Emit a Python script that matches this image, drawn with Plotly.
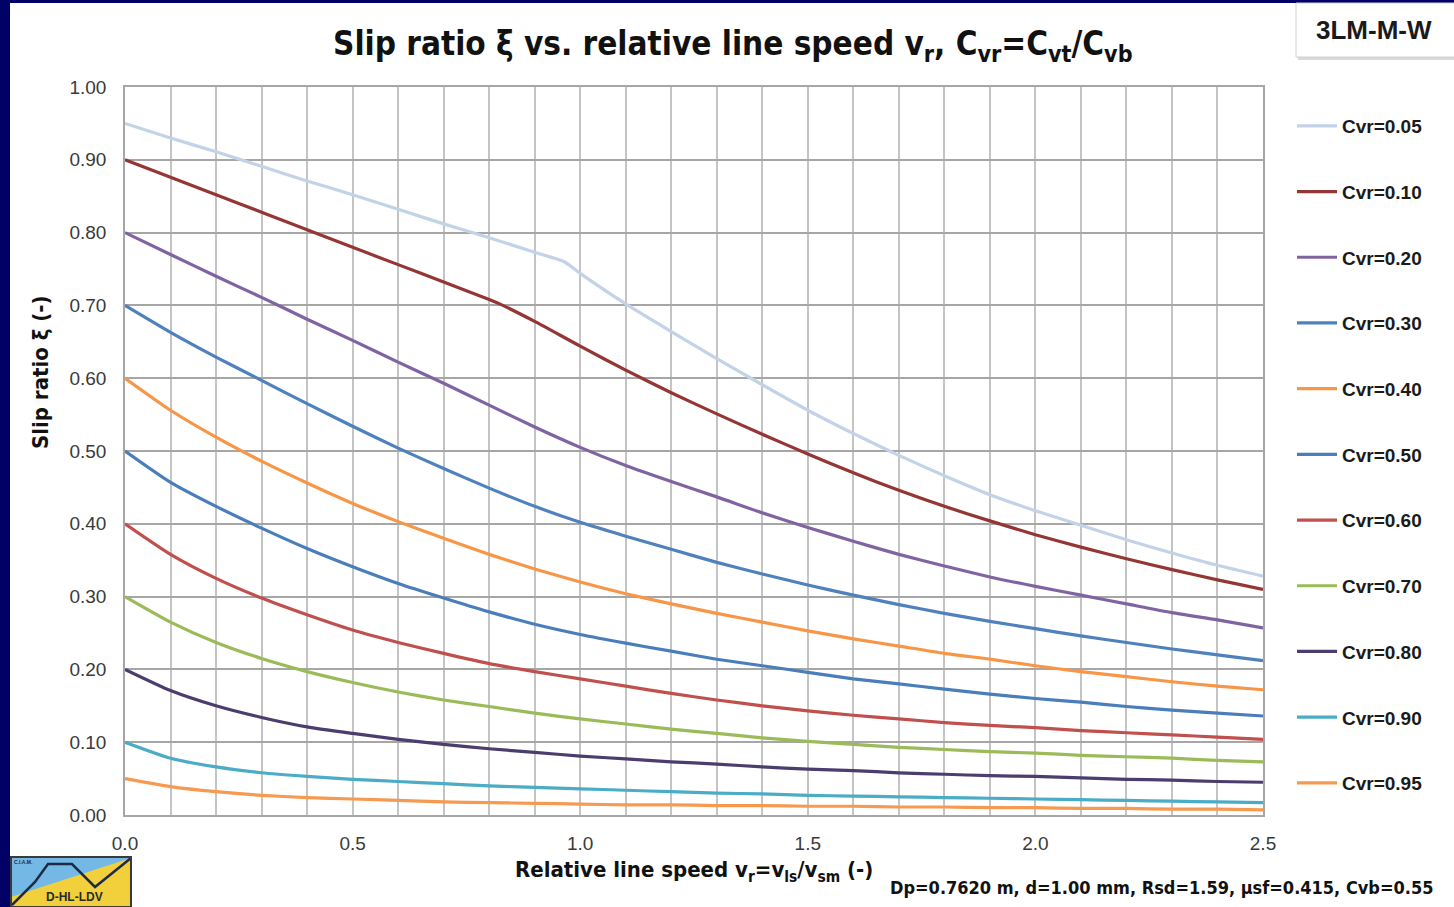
import plotly.graph_objects as go

# ---------------- data ----------------
x_grid = [0.0, 0.1, 0.2, 0.3, 0.4, 0.5, 0.6, 0.7, 0.8, 0.9, 1.0, 1.1, 1.2,
          1.3, 1.4, 1.5, 1.6, 1.7, 1.8, 1.9, 2.0, 2.1, 2.2, 2.3, 2.4, 2.5]

x_cvr005 = [0.0, 0.1, 0.2, 0.3, 0.4, 0.5, 0.6, 0.7, 0.8, 0.9, 0.965, 1.0, 1.1,
            1.2, 1.3, 1.4, 1.5, 1.6, 1.7, 1.8, 1.9, 2.0, 2.1, 2.2, 2.3, 2.4, 2.5]
y_cvr005 = [0.950, 0.930, 0.911, 0.891, 0.871, 0.852, 0.832, 0.812, 0.793, 0.773,
            0.760, 0.744, 0.702, 0.664, 0.627, 0.591, 0.556, 0.524, 0.494, 0.466,
            0.440, 0.418, 0.398, 0.378, 0.360, 0.343, 0.328]

x_cvr010 = [0.0, 0.1, 0.2, 0.3, 0.4, 0.5, 0.6, 0.7, 0.8, 0.83, 0.9, 1.0, 1.1,
            1.2, 1.3, 1.4, 1.5, 1.6, 1.7, 1.8, 1.9, 2.0, 2.1, 2.2, 2.3, 2.4, 2.5]
y_cvr010 = [0.900, 0.876, 0.852, 0.828, 0.804, 0.780, 0.756, 0.732, 0.708, 0.700,
            0.678, 0.644, 0.611, 0.580, 0.551, 0.523, 0.496, 0.470, 0.446, 0.424,
            0.404, 0.385, 0.368, 0.352, 0.337, 0.323, 0.310]

y_cvr020 = [0.800, 0.770, 0.740, 0.711, 0.681, 0.652, 0.622, 0.593, 0.563, 0.533,
            0.505, 0.480, 0.458, 0.437, 0.415, 0.395, 0.376, 0.358, 0.342, 0.327,
            0.314, 0.302, 0.290, 0.278, 0.268, 0.257]
y_cvr030 = [0.700, 0.663, 0.629, 0.597, 0.565, 0.534, 0.504, 0.476, 0.449, 0.424,
            0.402, 0.383, 0.365, 0.347, 0.331, 0.316, 0.302, 0.289, 0.277, 0.266,
            0.256, 0.246, 0.237, 0.228, 0.220, 0.212]
y_cvr040 = [0.600, 0.556, 0.519, 0.486, 0.456, 0.428, 0.403, 0.380, 0.358, 0.338,
            0.320, 0.304, 0.290, 0.277, 0.265, 0.253, 0.242, 0.232, 0.222, 0.214,
            0.205, 0.197, 0.190, 0.183, 0.177, 0.172]
y_cvr050 = [0.500, 0.457, 0.424, 0.394, 0.366, 0.341, 0.318, 0.298, 0.279, 0.262,
            0.248, 0.236, 0.225, 0.214, 0.205, 0.196, 0.187, 0.180, 0.173, 0.166,
            0.160, 0.155, 0.149, 0.144, 0.140, 0.136]
y_cvr060 = [0.400, 0.358, 0.325, 0.298, 0.275, 0.254, 0.237, 0.222, 0.208, 0.197,
            0.187, 0.177, 0.167, 0.158, 0.150, 0.143, 0.137, 0.132, 0.127, 0.123,
            0.120, 0.116, 0.113, 0.110, 0.107, 0.104]
y_cvr070 = [0.300, 0.265, 0.237, 0.215, 0.197, 0.182, 0.169, 0.158, 0.149, 0.140,
            0.132, 0.125, 0.118, 0.112, 0.106, 0.101, 0.097, 0.093, 0.090, 0.087,
            0.085, 0.082, 0.080, 0.078, 0.075, 0.073]
y_cvr080 = [0.200, 0.171, 0.150, 0.134, 0.121, 0.112, 0.104, 0.097, 0.091, 0.086,
            0.081, 0.077, 0.073, 0.070, 0.066, 0.063, 0.061, 0.058, 0.056, 0.054,
            0.053, 0.051, 0.049, 0.048, 0.046, 0.045]
y_cvr090 = [0.100, 0.078, 0.066, 0.058, 0.053, 0.049, 0.046, 0.043, 0.040, 0.038,
            0.036, 0.034, 0.032, 0.030, 0.029, 0.027, 0.026, 0.025, 0.024, 0.023,
            0.022, 0.021, 0.020, 0.019, 0.018, 0.017]
y_cvr095 = [0.050, 0.039, 0.032, 0.027, 0.024, 0.022, 0.020, 0.018, 0.017, 0.016,
            0.015, 0.014, 0.014, 0.013, 0.013, 0.012, 0.012, 0.011, 0.011, 0.010,
            0.010, 0.009, 0.009, 0.008, 0.008, 0.007]

series_names = ["Cvr=0.05", "Cvr=0.10", "Cvr=0.20", "Cvr=0.30", "Cvr=0.40", "Cvr=0.50",
                "Cvr=0.60", "Cvr=0.70", "Cvr=0.80", "Cvr=0.90", "Cvr=0.95"]
series_x = [x_cvr005, x_cvr010] + [x_grid] * 9
series_y = [y_cvr005, y_cvr010, y_cvr020, y_cvr030, y_cvr040, y_cvr050,
            y_cvr060, y_cvr070, y_cvr080, y_cvr090, y_cvr095]
series_colors = ["#C3D3E7", "#943634", "#8064A2", "#4F81BD", "#F79646", "#4A7EBB",
                 "#C0504D", "#9BBB59", "#4B3D6E", "#4BACC6", "#F59A50"]

y_ticks = [0.0, 0.1, 0.2, 0.3, 0.4, 0.5, 0.6, 0.7, 0.8, 0.9, 1.0]
x_ticks = [0.0, 0.5, 1.0, 1.5, 2.0, 2.5]

# ---------------- figure ----------------
W, H = 1454, 907
L, R, T, B = 125, 1263, 87, 815

def px(X):
    return (X - L) / (R - L)

def py(Y):
    return (B - Y) / (B - T)

NARROW = "Liberation Sans Narrow, Arial Narrow, DejaVu Sans Condensed, Liberation Sans, Arial, sans-serif"
SANS = "Liberation Sans, Arial, Helvetica, sans-serif"

fig = go.Figure()
for i, (nm, xs, ys, col) in enumerate(zip(series_names, series_x, series_y, series_colors)):
    fig.add_trace(go.Scatter(
        x=xs, y=ys, name=nm, mode="lines",
        line=dict(color=col, width=3.2, shape="spline", smoothing=0.6),
        legendgroup=f"g{i}", hoverinfo="x+y+name",
    ))

fig.update_layout(
    width=W, height=H,
    margin=dict(l=L, r=W - R, t=T, b=H - B),
    paper_bgcolor="white", plot_bgcolor="white",
    showlegend=True,
    legend=dict(
        x=px(1292), y=py(107), xanchor="left", yanchor="top",
        font=dict(family=SANS, size=19, color="#1a1a1a", weight="bold"),
        tracegroupgap=38, itemwidth=40,
        bgcolor="rgba(0,0,0,0)",
    ),
    xaxis=dict(
        range=[0, 2.5], tickvals=x_ticks, tickformat=".1f",
        showgrid=True, gridcolor="#C4C4C4", gridwidth=1.5,
        minor=dict(dtick=0.1, showgrid=True, gridcolor="#C4C4C4", gridwidth=1.5),
        showline=True, linecolor="#A6A6A6", linewidth=1.5, mirror=True,
        ticks="", tickfont=dict(family=SANS, size=19, color="#3a3a3a"),
        ticklabelstandoff=10, zeroline=False,
    ),
    yaxis=dict(
        range=[0, 1.0], tickvals=y_ticks, tickformat=".2f",
        showgrid=True, gridcolor="#A6A6A6", gridwidth=1.5,
        showline=True, linecolor="#A6A6A6", linewidth=1.5, mirror=True,
        ticks="", tickfont=dict(family=SANS, size=19, color="#3a3a3a"),
        ticklabelstandoff=13, zeroline=False,
    ),
)

shapes = []
# navy frame strips
shapes.append(dict(type="rect", xref="paper", yref="paper", x0=px(0), x1=px(10), y0=py(H), y1=py(0),
                   fillcolor="#000066", line=dict(width=0), layer="above"))
shapes.append(dict(type="rect", xref="paper", yref="paper", x0=px(0), x1=px(W), y0=py(3), y1=py(0),
                   fillcolor="#000066", line=dict(width=0), layer="above"))
# top-right label box (shadow + box)
shapes.append(dict(type="rect", xref="paper", yref="paper", x0=px(1298), x1=px(W + 5), y0=py(60), y1=py(5),
                   fillcolor="#D9D9D9", line=dict(width=0), layer="above"))
shapes.append(dict(type="rect", xref="paper", yref="paper", x0=px(1296), x1=px(W + 5), y0=py(57), y1=py(3),
                   fillcolor="white", line=dict(color="#D0D0D0", width=1), layer="above"))
# logo (bottom-left)
shapes.append(dict(type="rect", xref="paper", yref="paper", x0=px(11), x1=px(131), y0=py(H), y1=py(857),
                   fillcolor="#F2D03B", line=dict(width=0), layer="above"))
shapes.append(dict(type="path", xref="paper", yref="paper",
                   path=f"M {px(11)},{py(897)} L {px(131)},{py(858)} L {px(11)},{py(858)} Z",
                   fillcolor="#74B9E6", line=dict(width=0), layer="above"))
shapes.append(dict(type="path", xref="paper", yref="paper",
                   path=(f"M {px(12)},{py(905)} L {px(35)},{py(882)} L {px(48)},{py(864)} "
                         f"L {px(72)},{py(864)} L {px(95)},{py(887)} L {px(131)},{py(858)}"),
                   line=dict(color="#1F2A44", width=2.5), layer="above"))
shapes.append(dict(type="rect", xref="paper", yref="paper", x0=px(11), x1=px(131), y0=py(H), y1=py(857),
                   fillcolor="rgba(0,0,0,0)", line=dict(color="#3A3A3A", width=2), layer="above"))
fig.update_layout(shapes=shapes)

ann = []
ann.append(dict(xref="paper", yref="paper", x=px(733), y=py(46), xanchor="center", yanchor="middle",
                text="<b>Slip ratio ξ vs. relative line speed v<sub>r</sub>, C<sub>vr</sub>=C<sub>vt</sub>/C<sub>vb</sub></b>",
                showarrow=False, font=dict(family=NARROW, size=33, color="#111111")))
ann.append(dict(xref="paper", yref="paper", x=px(1374), y=py(30), xanchor="center", yanchor="middle",
                text="<b>3LM-M-W</b>", showarrow=False, font=dict(family=SANS, size=26, color="#1a1a1a")))
ann.append(dict(xref="paper", yref="paper", x=px(40), y=py(372), xanchor="center", yanchor="middle",
                text="<b>Slip ratio ξ (-)</b>", textangle=-90, showarrow=False,
                font=dict(family=NARROW, size=22, color="#111111")))
ann.append(dict(xref="paper", yref="paper", x=px(694), y=py(871), xanchor="center", yanchor="middle",
                text="<b>Relative line speed v<sub>r</sub>=v<sub>ls</sub>/v<sub>sm</sub> (-)</b>",
                showarrow=False, font=dict(family=NARROW, size=22, color="#111111")))
ann.append(dict(xref="paper", yref="paper", x=px(1161), y=py(887), xanchor="center", yanchor="middle",
                text="<b>Dp=0.7620 m, d=1.00 mm, Rsd=1.59, μsf=0.415, Cvb=0.55</b>",
                showarrow=False, font=dict(family=NARROW, size=18, color="#111111")))
ann.append(dict(xref="paper", yref="paper", x=px(74), y=py(897), xanchor="center", yanchor="middle",
                text="<b>D-HL-LDV</b>", showarrow=False, font=dict(family=SANS, size=12, color="#2A2A2A")))
ann.append(dict(xref="paper", yref="paper", x=px(23), y=py(862), xanchor="center", yanchor="middle",
                text="<b>C.I.A.M.</b>", showarrow=False, font=dict(family=SANS, size=5, color="#1F2A44")))
fig.update_layout(annotations=ann)

fig.write_html("out.html", config={"displayModeBar": False},
               post_script="document.body.style.margin='0';document.body.style.overflow='hidden';")
